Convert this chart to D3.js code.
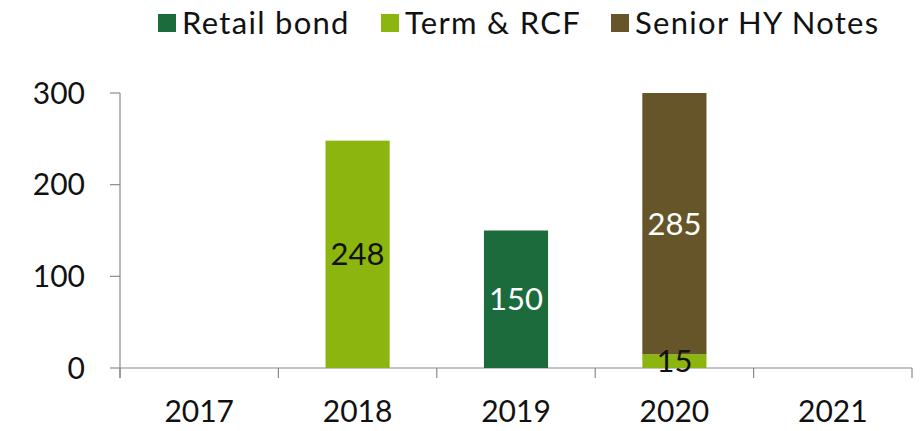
<!DOCTYPE html>
<html>
<head>
<meta charset="utf-8">
<script src="https://cdn.jsdelivr.net/npm/d3@7"></script>
<style>
  body { margin: 0; background: #fff; }
  text { font-family: Lato, "Open Sans", sans-serif; fill: #111; }
</style>
</head>
<body>
<div class="chart-container"></div>
<script>
const years = ["2017", "2018", "2019", "2020", "2021"];
const seriesNames = ["Retail bond", "Term & RCF", "Senior HY Notes"];
const retailBond = [0, 0, 150, 0, 0];
const termRcf = [0, 248, 0, 15, 0];
const seniorHy = [0, 0, 0, 285, 0];
const yTicks = [0, 100, 200, 300];
const colors = ["#1b6b3c", "#8db50f", "#655529"];
const labelColors = ["#fff", "#111", "#fff"];

const width = 923, height = 431;
const margin = { top: 93, right: 11, bottom: 63, left: 120 };

// build rows for the stack
const rows = years.map((y, i) => ({
  year: y,
  "Retail bond": retailBond[i],
  "Term & RCF": termRcf[i],
  "Senior HY Notes": seniorHy[i]
}));
const stacked = d3.stack().keys(seriesNames)(rows);

const x = d3.scaleBand().domain(years).range([margin.left, width - margin.right]).padding(0);
const y = d3.scaleLinear().domain([0, 300]).range([height - margin.bottom, margin.top]);
const barW = x.bandwidth() * 0.405;

const svg = d3.select(".chart-container")
  .append("svg")
  .attr("width", width)
  .attr("height", height);

// y axis
const yAxis = svg.append("g").attr("transform", "translate(" + margin.left + ",0)");
yAxis.append("line")
  .attr("x1", 0).attr("x2", 0)
  .attr("y1", y(300)).attr("y2", y(0) + 10)
  .attr("stroke", "#8a8a8a").attr("stroke-width", 1.2);
yAxis.selectAll(".tick")
  .data(yTicks)
  .join("line")
  .attr("x1", -10).attr("x2", 0)
  .attr("y1", d => y(d)).attr("y2", d => y(d))
  .attr("stroke", "#8a8a8a").attr("stroke-width", 1.2);
yAxis.selectAll(".lbl")
  .data(yTicks)
  .join("text")
  .attr("x", -35)
  .attr("y", d => y(d))
  .attr("dy", "0.36em")
  .attr("text-anchor", "end")
  .style("font-size", "30px")
  .text(d => d);

// x axis
const xAxis = svg.append("g").attr("transform", "translate(0," + y(0) + ")");
xAxis.append("line")
  .attr("x1", margin.left).attr("x2", width - margin.right)
  .attr("stroke", "#8a8a8a").attr("stroke-width", 1.2);
const bounds = years.map(d => x(d)).concat([x(years[years.length - 1]) + x.bandwidth()]);
xAxis.selectAll(".tick")
  .data(bounds)
  .join("line")
  .attr("x1", d => d).attr("x2", d => d)
  .attr("y1", 0).attr("y2", 10)
  .attr("stroke", "#8a8a8a").attr("stroke-width", 1.2);
xAxis.selectAll(".lbl")
  .data(years)
  .join("text")
  .attr("x", d => x(d) + x.bandwidth() / 2)
  .attr("y", 43)
  .attr("dy", "0.36em")
  .attr("text-anchor", "middle")
  .style("font-size", "30px")
  .text(d => d);

// bars
const layers = svg.append("g").selectAll("g")
  .data(stacked)
  .join("g")
  .attr("fill", (d, i) => colors[i]);

layers.selectAll("rect")
  .data(d => d.filter(p => p[1] - p[0] > 0))
  .join("rect")
  .attr("x", d => x(d.data.year) + (x.bandwidth() - barW) / 2)
  .attr("y", d => y(d[1]))
  .attr("width", barW)
  .attr("height", d => y(d[0]) - y(d[1]));

// value labels
stacked.forEach((s, i) => {
  svg.append("g").selectAll("text")
    .data(s.filter(p => p[1] - p[0] > 0))
    .join("text")
    .attr("x", d => x(d.data.year) + x.bandwidth() / 2)
    .attr("y", d => y((d[0] + d[1]) / 2))
    .attr("dy", "0.36em")
    .attr("text-anchor", "middle")
    .style("font-size", "31px")
    .style("fill", labelColors[i])
    .text(d => d[1] - d[0]);
});

// legend
const legendX = [158, 381, 611];
const legend = svg.append("g").selectAll("g")
  .data(seriesNames)
  .join("g")
  .attr("transform", (d, i) => "translate(" + legendX[i] + ",14)");
legend.append("rect")
  .attr("width", 18).attr("height", 18)
  .attr("fill", (d, i) => colors[i]);
legend.append("text")
  .attr("x", 24)
  .attr("y", 9)
  .attr("dy", "0.36em")
  .style("font-size", "31px")
  .style("letter-spacing", "1.3px")
  .text(d => d);
</script>
</body>
</html>
